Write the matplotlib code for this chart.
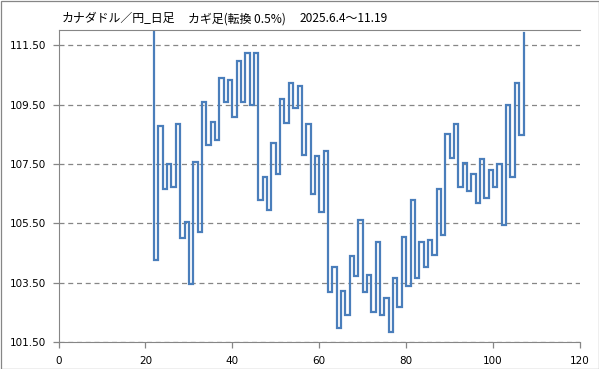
import matplotlib
matplotlib.use('Agg')
import matplotlib.pyplot as plt
from matplotlib.patches import Rectangle

plt.rcParams['font.family'] = ['Noto Sans CJK JP', 'DejaVu Sans']

# kagi turning levels, one column per x step
x_start = 22
levels = [112.00, 104.25, 108.79, 106.67, 107.49, 106.72, 108.85, 105.01, 105.54,
          103.47, 107.58, 105.19, 109.60, 108.12, 108.92, 108.29, 110.41, 109.57,
          110.34, 109.08, 110.96, 109.60, 111.22, 109.49, 111.22, 106.29, 107.06,
          105.95, 108.22, 107.17, 109.67, 108.88, 110.21, 109.37, 110.11, 107.81,
          108.86, 106.50, 107.76, 105.89, 107.95, 103.20, 104.04, 101.98, 103.23,
          102.40, 104.41, 103.74, 105.61, 103.20, 103.77, 102.52, 104.88, 102.40,
          102.99, 101.85, 103.65, 102.69, 105.03, 103.40, 106.28, 103.66, 104.86,
          104.04, 104.95, 104.42, 106.67, 105.12, 108.49, 107.71, 108.86, 106.72,
          107.54, 106.57, 107.17, 106.19, 107.65, 106.35, 107.31, 106.72, 107.49,
          105.44, 109.48, 107.07, 110.22, 108.46, 111.90]

title_parts = ['カナダドル／円_日足', 'カギ足(転換 0.5%)', '2025.6.4～11.19']
title_x = [62, 188, 300]
yticks = [101.5, 103.5, 105.5, 107.5, 109.5, 111.5]
xticks = [0, 20, 40, 60, 80, 100, 120]

# build step path: vertical at column i from levels[i] to levels[i+1], then over
xs = []
ys = []
for i in range(len(levels) - 1):
    col = x_start + i
    xs += [col, col]
    ys += [levels[i], levels[i + 1]]

fig = plt.figure(figsize=(5.99, 3.69), dpi=100)
ax = fig.add_axes([58.5 / 599, 1 - 342 / 369, (580 - 58.5) / 599, (342 - 30.3) / 369])

ax.plot(xs, ys, color='#4a7ebb', lw=1.6, solid_joinstyle='miter')

ax.set_xlim(0, 120)
ax.set_ylim(101.5, 112.0)
ax.set_xticks(xticks)
ax.set_yticks(yticks)
ax.set_yticklabels(['%.2f' % v for v in yticks])
ax.yaxis.grid(True, linestyle=(0, (4, 3)), color='#868686', lw=0.9)
ax.set_axisbelow(True)

for side in ['left', 'bottom', 'top']:
    ax.spines[side].set_color('#868686')
ax.spines['right'].set_visible(False)
ax.tick_params(colors='#868686', labelcolor='black', length=4, width=0.9)
ax.tick_params(axis='y', pad=5)
ax.tick_params(axis='x', pad=6)
for lab in ax.get_xticklabels() + ax.get_yticklabels():
    lab.set_fontfamily('DejaVu Sans')
    lab.set_fontsize(7.5)

for txt, px in zip(title_parts, title_x):
    fig.text(px / 599, 1 - 19 / 369, txt, fontsize=8.6, va='center', ha='left')

fig.patches.append(Rectangle((0.5 / 599, 0.5 / 369), 598 / 599, 368 / 369,
                             transform=fig.transFigure, fill=False,
                             edgecolor='#868686', lw=0.9))

fig.savefig('out.png', dpi=100)
